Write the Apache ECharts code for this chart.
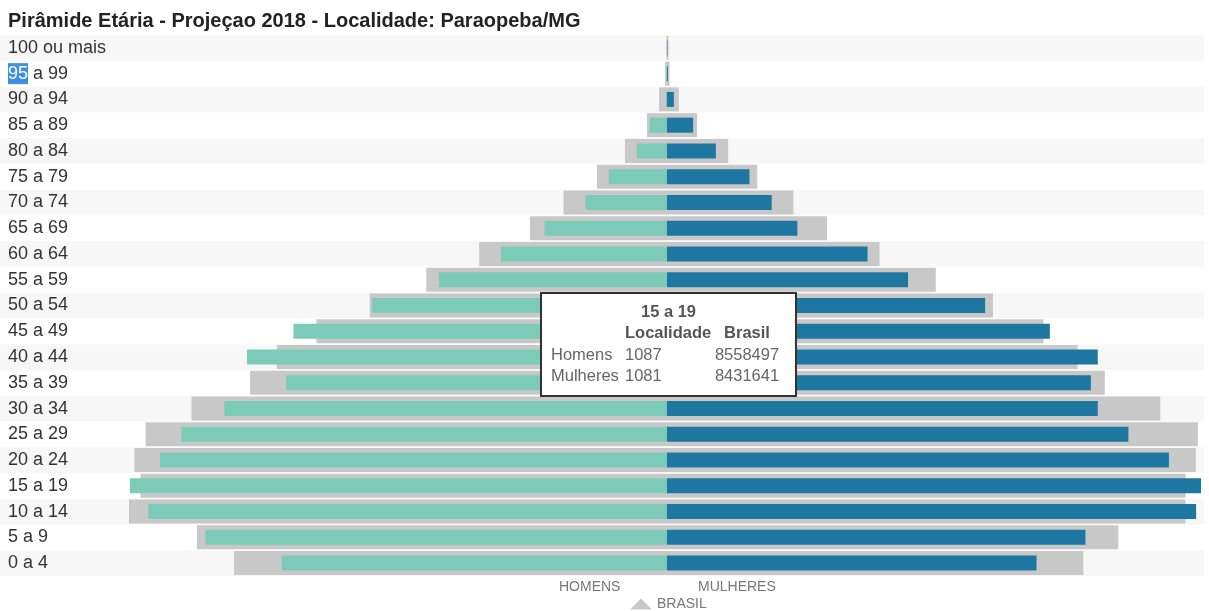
<!DOCTYPE html>
<html>
<head>
<meta charset="utf-8">
<script src="https://cdn.jsdelivr.net/npm/echarts@6/dist/echarts.min.js"></script>
<style>
  html, body { margin: 0; padding: 0; background: #fff; }
  #chart { width: 1209px; height: 611px; }
</style>
</head>
<body>
<div id="chart"></div>
<script>
// Age groups, bottom to top
const categories = ['0 a 4','5 a 9','10 a 14','15 a 19','20 a 24','25 a 29','30 a 34','35 a 39','40 a 44','45 a 49','50 a 54','55 a 59','60 a 64','65 a 69','70 a 74','75 a 79','80 a 84','85 a 89','90 a 94','95 a 99','100 ou mais'];
// Localidade (Paraopeba/MG)
const homens   = [780, 934, 1050, 1087, 1026, 983, 896, 771, 850, 756, 597, 462, 336, 248, 165, 118, 61, 35, 2, 1, 0];
const mulheres = [748, 847, 1071, 1081, 1016, 934, 872, 858, 872, 775, 644, 488, 406, 264, 212, 167, 99, 53, 14, 2, 1];
// Brasil
const brasilHomens   = [7035000, 7639000, 8744000, 8558497, 8655000, 8474000, 7729000, 6776000, 6341000, 5699000, 4831000, 3911000, 3052000, 2228000, 1682000, 1138000, 683000, 325000, 130000, 30000, 10000];
const brasilMulheres = [6768000, 7335000, 8427000, 8431641, 8596000, 8629000, 8018000, 7116000, 6674000, 6118000, 5298000, 4370000, 3455000, 2603000, 2054000, 1467000, 995000, 489000, 192000, 40000, 25000];
const tooltipIndex = 3; // '15 a 19'

const LOC_MIN = -1350, LOC_MAX = 1087;
const BR_RATIO = 8030;

const chart = echarts.init(document.getElementById('chart'), null, { renderer: 'canvas' });
const FONT = '"Liberation Sans", Arial, sans-serif';

function tipHtml(i) {
  const h = 'font-weight:bold;color:#555;';
  const td = 'padding:0;white-space:nowrap;';
  return '<div style="font-family:' + FONT.replace(/"/g, "'") + ';font-size:16.5px;color:#666;line-height:21.3px;padding:7px 0 0 9px;">' +
    '<table style="border-collapse:collapse;border-spacing:0;table-layout:fixed;">' +
    '<tr><td style="' + td + 'width:74px"></td><td style="' + td + 'width:87px;text-align:center;' + h + '">' + categories[i] + '</td><td style="' + td + 'width:70px"></td></tr>' +
    '<tr><td style="' + td + '"></td><td style="' + td + h + '">Localidade</td><td style="' + td + 'text-align:center;' + h + '">Brasil</td></tr>' +
    '<tr><td style="' + td + '">Homens</td><td style="' + td + '">' + homens[i] + '</td><td style="' + td + 'text-align:center;">' + brasilHomens[i] + '</td></tr>' +
    '<tr><td style="' + td + '">Mulheres</td><td style="' + td + '">' + mulheres[i] + '</td><td style="' + td + 'text-align:center;">' + brasilMulheres[i] + '</td></tr>' +
    '</table></div>';
}

const option = {
  animation: false,
  textStyle: { fontFamily: FONT },
  title: [
    { text: 'Pirâmide Etária - Projeçao 2018 - Localidade: Paraopeba/MG', left: 3, top: 6,
      textStyle: { fontSize: 20, fontWeight: 'bold', color: '#222', fontFamily: FONT } },
    { text: 'HOMENS', left: 554, top: 575, textStyle: { fontSize: 14, fontWeight: 'normal', color: '#777', fontFamily: FONT } },
    { text: 'MULHERES', left: 693, top: 575, textStyle: { fontSize: 14, fontWeight: 'normal', color: '#777', fontFamily: FONT } }
  ],
  legend: {
    left: 625, top: 592, selectedMode: false, itemWidth: 22, itemHeight: 11, itemGap: 5,
    data: [{ name: 'BRASIL', icon: 'triangle' }],
    textStyle: { fontSize: 14, color: '#777', fontFamily: FONT }
  },
  tooltip: {
    trigger: 'item', triggerOn: 'none', alwaysShowContent: true,
    position: [540, 292], transitionDuration: 0,
    backgroundColor: '#fff', borderColor: '#333', borderWidth: 2, padding: 0,
    extraCssText: 'box-shadow:none;border-radius:0;width:253px;height:101px;box-sizing:content-box;',
    formatter: function (p) { return tipHtml(p.dataIndex); }
  },
  grid: { left: 0, right: 5, top: 35, bottom: 35, containLabel: false },
  xAxis: [
    { type: 'value', min: LOC_MIN, max: LOC_MAX, show: false },
    { type: 'value', min: LOC_MIN * BR_RATIO, max: LOC_MAX * BR_RATIO, show: false }
  ],
  yAxis: [
    { type: 'category', data: categories, axisLine: { show: false }, axisTick: { show: false },
      splitLine: { show: false },
      splitArea: { show: true, areaStyle: { color: ['#f7f7f7', '#ffffff'] } },
      axisLabel: { inside: true, margin: 8, fontSize: 18, color: '#333', fontFamily: FONT,
        formatter: function (v) {
          if (v === '95 a 99') return '{sel|95}' + ' a 99';
          return v;
        },
        rich: { sel: { backgroundColor: '#3d8fe3', color: '#fff', fontSize: 18, fontFamily: FONT, padding: [2, 0, 1, 0] } }
      }
    },
    { type: 'category', data: categories, show: false }
  ],
  series: [
    { name: 'BRASIL', type: 'bar', xAxisIndex: 1, yAxisIndex: 1, barWidth: 24, barGap: '-100%',
      itemStyle: { color: '#c8c8c8' }, data: brasilHomens.map(v => -v), z: 3 },
    { name: 'BRASIL', type: 'bar', xAxisIndex: 1, yAxisIndex: 1, barWidth: 24, barGap: '-100%',
      itemStyle: { color: '#c8c8c8' }, data: brasilMulheres, z: 3 },
    { name: 'Homens', type: 'bar', xAxisIndex: 0, yAxisIndex: 0, barWidth: 15, barGap: '-100%',
      itemStyle: { color: '#7ccbb8' }, data: homens.map(v => -v), z: 4 },
    { name: 'Mulheres', type: 'bar', xAxisIndex: 0, yAxisIndex: 0, barWidth: 15, barGap: '-100%',
      itemStyle: { color: '#1e77a1' }, data: mulheres, z: 4 }
  ]
};
chart.setOption(option);
chart.dispatchAction({ type: 'showTip', seriesIndex: 2, dataIndex: tooltipIndex });
</script>
</body>
</html>
